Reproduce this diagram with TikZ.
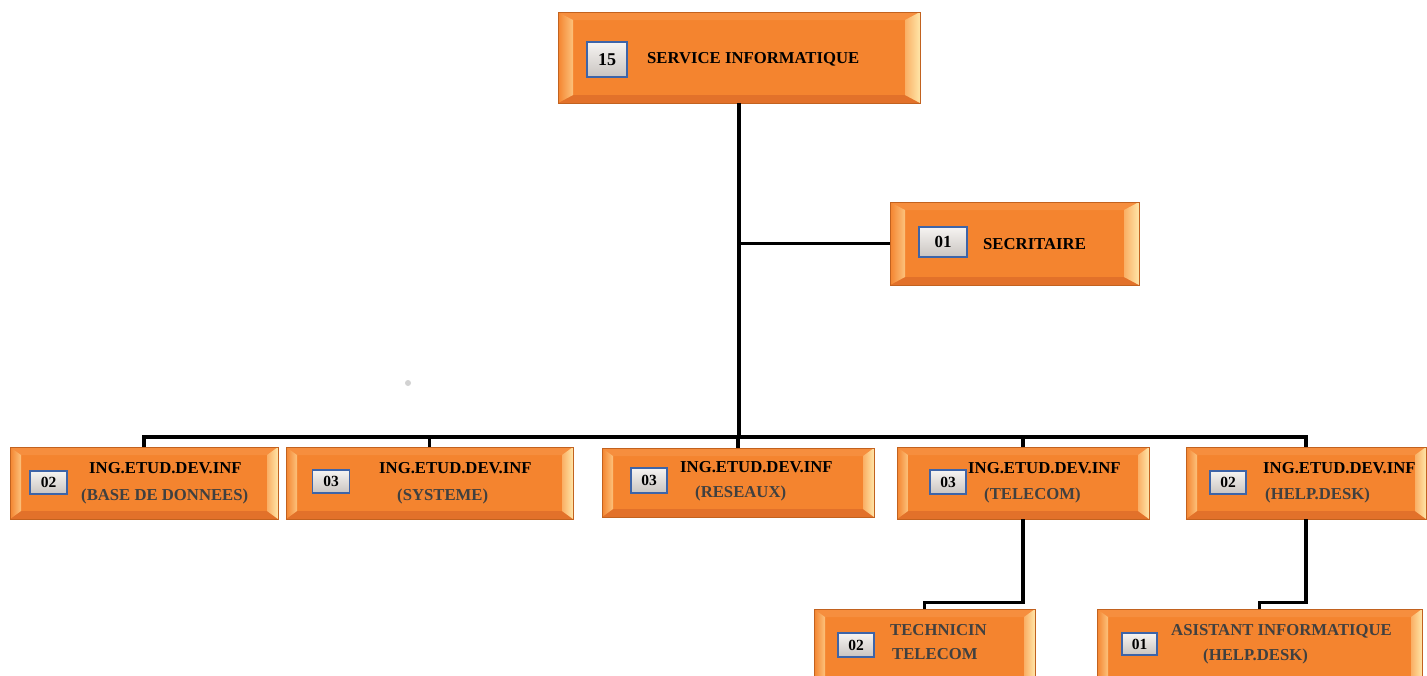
\documentclass[tikz,border=0pt]{standalone}
\usepackage{fontspec}
\setmainfont{Liberation Serif}
\usetikzlibrary{fit}

\definecolor{face}{HTML}{F4842F}
\definecolor{edgeorange}{HTML}{C2621F}
\definecolor{bevtop}{HTML}{F68E3E}
\definecolor{bevbot}{HTML}{E2712A}
\definecolor{bevleftin}{HTML}{FCC27C}
\definecolor{bevrightout}{HTML}{FFE6A8}
\definecolor{badgeblue}{HTML}{3D64A8}
\definecolor{badgetop}{HTML}{F6F4F2}
\definecolor{badgebot}{HTML}{C9C4C0}
\definecolor{subgray}{HTML}{404040}

% bevelled face of an orange unit box
\def\bevx{15pt}
\def\bevy{8pt}
\newcommand\bevelfaces{%
  \coordinate (bNW) at (path picture bounding box.north west);
  \coordinate (bNE) at (path picture bounding box.north east);
  \coordinate (bSW) at (path picture bounding box.south west);
  \coordinate (bSE) at (path picture bounding box.south east);
  \coordinate (iNW) at ([xshift=\bevx,yshift=-\bevy]bNW);
  \coordinate (iNE) at ([xshift=-\bevx,yshift=-\bevy]bNE);
  \coordinate (iSW) at ([xshift=\bevx,yshift=\bevy]bSW);
  \coordinate (iSE) at ([xshift=-\bevx,yshift=\bevy]bSE);
  \fill[bevtop] (bNW) -- (bNE) -- (iNE) -- (iNW) -- cycle;
  \fill[bevbot] (bSW) -- (bSE) -- (iSE) -- (iSW) -- cycle;
  \shade[left color=face, right color=bevleftin] (bNW) -- (iNW) -- (iSW) -- (bSW) -- cycle;
  \shade[left color=bevleftin!70!face, right color=bevrightout] (bNE) -- (iNE) -- (iSE) -- (bSE) -- cycle;
}

\tikzset{
  unitbox/.style={draw=edgeorange, line width=0.8pt, fill=face, inner sep=0pt,
                  path picture={\bevelfaces}},
  rowbevel/.code={\def\bevx{11pt}\def\bevy{8pt}},
  badge/.style={draw=badgeblue, line width=1.6pt, top color=badgetop, bottom color=badgebot,
                inner sep=0pt, minimum width=36, minimum height=23,
                font=\bfseries\fontsize{15.5}{16}\selectfont},
  label/.style={anchor=base west, inner sep=0pt, font=\bfseries\fontsize{16.7}{18}\selectfont},
  subline/.style={label, text=subgray},
  wire/.style={line width=3.2pt, black, line join=miter},
  trunk/.style={line width=4pt, black},
}

\begin{document}
\begin{tikzpicture}[x=1pt, y=-1pt]
\useasboundingbox (0,0) rectangle (1427,675);
\clip (0,0) rectangle (1427,675);
\fill[white] (0,0) rectangle (1427,675);

% stray mark on the page
\fill[gray!35] (408,383) circle (3);

% head of service
\node[unitbox, fit={(558,12) (920,103)}] (top) {};
\node[badge, minimum width=40, minimum height=35, font=\bfseries\fontsize{18}{19}\selectfont] (topn) at (607,59.5) {15};
\node[label] (toptxt) at (647,63) {SERVICE INFORMATIQUE};

% secretary
\node[unitbox, fit={(890,202) (1139,285)}] (sec) {};
\node[badge, minimum width=48, minimum height=30, font=\bfseries\fontsize{17}{18}\selectfont] (secn) at (943,242) {01};
\node[label] (sectxt) at (983,249) {SECRITAIRE};

% engineering units
\node[unitbox, rowbevel, fit={(10,447) (278,519)}] (u1) {};
\node[badge, minimum width=37] (u1n) at (48.5,482.5) {02};
\node[label] (u1a) at (89,473) {ING.ETUD.DEV.INF};
\node[subline] (u1b) at (81,500) {(BASE DE DONNEES)};

\node[unitbox, rowbevel, fit={(286,447) (573,519)}] (u2) {};
\node[badge, minimum width=37] (u2n) at (331,481.5) {03};
\node[label] (u2a) at (379,473) {ING.ETUD.DEV.INF};
\node[subline] (u2b) at (397,500) {(SYSTEME)};

\node[unitbox, rowbevel, fit={(602,448) (874,517)}] (u3) {};
\node[badge, minimum height=25] (u3n) at (649,480.5) {03};
\node[label] (u3a) at (680,472) {ING.ETUD.DEV.INF};
\node[subline] (u3b) at (695,497) {(RESEAUX)};

\node[unitbox, rowbevel, fit={(897,447) (1149,519)}] (u4) {};
\node[badge, minimum height=24] (u4n) at (948,482) {03};
\node[label] (u4a) at (968,473) {ING.ETUD.DEV.INF};
\node[subline] (u4b) at (984,499) {(TELECOM)};

\node[unitbox, rowbevel, fit={(1186,447) (1426,519)}] (u5) {};
\node[badge] (u5n) at (1228,482.5) {02};
\node[label] (u5a) at (1263,473) {ING.ETUD.DEV.INF};
\node[subline] (u5b) at (1265,499) {(HELP.DESK)};

% technical staff
\node[unitbox, rowbevel, fit={(814,609) (1035,690)}] (tech) {};
\node[badge, minimum height=24] (techn) at (856,645) {02};
\node[subline] (techa) at (890,635) {TECHNICIN};
\node[subline] (techb) at (892,659) {TELECOM};

\node[unitbox, rowbevel, fit={(1097,609) (1422,690)}] (asst) {};
\node[badge, minimum width=35, minimum height=22] (asstn) at (1139.5,644) {01};
\node[subline] (assta) at (1171,635) {ASISTANT INFORMATIQUE};
\node[subline] (asstb) at (1203,660) {(HELP.DESK)};

% connectors
\coordinate (bus) at (739,437);
\draw[trunk] (top.south) -- (top.south |- bus);
\draw[wire] (top.south |- sec.west) -- (sec.west);
\draw[wire] (u1.north) |- (bus) -| (u5.north);
\draw[wire] (u2.north) -- (u2.north |- bus);
\draw[wire] (u3.north) -- (u3.north |- bus);
\draw[wire] (u4.north) -- (u4.north |- bus);
\draw[wire] (u4.south) -- ++(0,83) -| (tech.north);
\draw[wire] (u5.south) -- ++(0,83) -| (asst.north);
\end{tikzpicture}
\end{document}
